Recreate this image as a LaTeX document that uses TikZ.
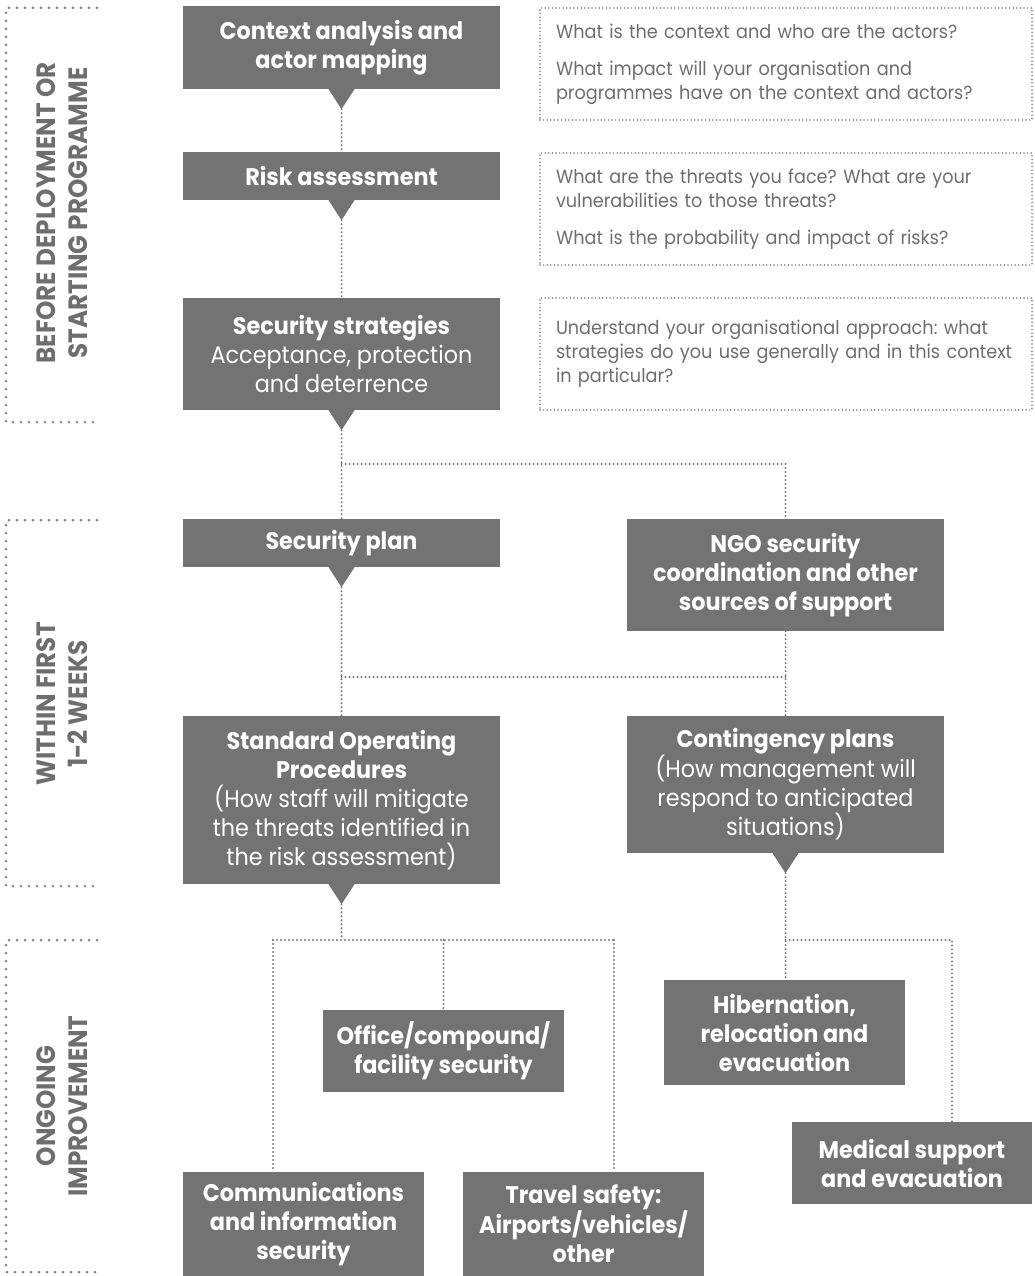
\documentclass[tikz,border=0pt]{standalone}
\usepackage{fontspec}
\setmainfont[FakeStretch=0.93]{Poppins}
\usetikzlibrary{calc}
\frenchspacing
\definecolor{boxgray}{HTML}{737373}
\definecolor{txtgray}{HTML}{6E6E6E}
\definecolor{dotgray}{HTML}{7A7A7A}
\tikzset{
  mainbox/.style={fill=boxgray, text=white, minimum width=317pt, inner sep=0pt, align=center,
    font=\fontsize{24}{29}\selectfont},
  smallbox/.style={mainbox, minimum width=241pt},
  qbox/.style={draw=dotgray, line width=1.7pt, line cap=round, dash pattern=on 0pt off 3.6pt,
    minimum width=492pt, minimum height=112pt, text width=460pt, inner xsep=16pt, inner ysep=0pt,
    align=left, text=txtgray, font=\fontsize{19}{24}\selectfont},
  conn/.style={draw=dotgray, line width=2.1pt, line cap=round, dash pattern=on 0pt off 4pt},
  bracket/.style={draw=dotgray!90, line width=3pt, line cap=round, dash pattern=on 0pt off 8pt},
  sidelabel/.style={rotate=90, align=center, text=txtgray, font=\fontsize{26.5}{32}\selectfont\bfseries},
}
\newcommand{\tri}[1]{%
  \fill[boxgray] ($(#1.south)+(-13,0)$) -- ($(#1.south)+(13,0)$) -- ($(#1.south)+(0,20)$) -- cycle;
  \coordinate (#1-tip) at ($(#1.south)+(0,20)$);}
\begin{document}
\begin{tikzpicture}[x=1pt,y=-1pt]
\useasboundingbox (0,0) rectangle (1035,1276);
% side brackets
\draw[bracket] (97,8) -- (6,8) -- (6,422) -- (97,422);
\draw[bracket] (97,520) -- (6,520) -- (6,886) -- (97,886);
\draw[bracket] (97,940) -- (6,940) -- (6,1272) -- (97,1272);
\node[sidelabel] (l1) at (62,213) {BEFORE DEPLOYMENT OR\\STARTING PROGRAMME};
\node[sidelabel] (l2) at (62,704) {WITHIN FIRST\\1-2 WEEKS};
\node[sidelabel] (l3) at (62,1106) {ONGOING\\IMPROVEMENT};
% main column
\node[mainbox, minimum height=83pt] (ctx) at (341.5,47.5) {\bfseries Context analysis and\\\bfseries actor mapping};
\node[mainbox, minimum height=48pt] (risk) at (341.5,176) {\bfseries Risk assessment};
\node[mainbox, minimum height=112pt] (strat) at (341.5,354) {\bfseries Security strategies\\Acceptance, protection\\and deterrence};
\node[mainbox, minimum height=48pt] (plan) at (341.5,543) {\bfseries Security plan};
\node[mainbox, minimum height=168pt] (sop) at (341.5,800) {\bfseries Standard Operating\\\bfseries Procedures\\(How staff will mitigate\\the threats identified in\\the risk assessment)};
\node[mainbox, minimum height=112pt] (ngo) at (785.5,575) {\bfseries NGO security\\\bfseries coordination and other\\\bfseries sources of support};
\node[mainbox, minimum height=137pt] (cont) at (785.5,784.5) {\bfseries Contingency plans\\(How management will\\respond to anticipated\\situations)};
\node[smallbox, minimum height=82pt] (office) at (443.5,1051) {\bfseries Office/compound/\\\bfseries facility security};
\node[smallbox, minimum height=105pt] (hib) at (784.5,1032.5) {\bfseries Hibernation,\\\bfseries relocation and\\\bfseries evacuation};
\node[smallbox, minimum width=240pt, minimum height=82pt] (med) at (912,1163) {\bfseries Medical support\\\bfseries and evacuation};
\node[smallbox, minimum height=104pt] (comm) at (303.5,1224) {\bfseries Communications\\\bfseries and information\\\bfseries security};
\node[smallbox, minimum height=104pt] (travel) at (583.5,1224) {\bfseries Travel safety:\\\bfseries Airports/vehicles/\\\bfseries other};
% question boxes
\node[qbox] (q1) at (786,64) {What is the context and who are the actors?\\[13pt]What impact will your organisation and\\programmes have on the context and actors?};
\node[qbox] (q2) at (786,209) {What are the threats you face? What are your\\vulnerabilities to those threats?\\[13pt]What is the probability and impact of risks?};
\node[qbox] (q3) at (786,354) {Understand your organisational approach: what\\strategies do you use generally and in this context\\in particular?\\[6pt]};
% triangles
\tri{ctx}\tri{risk}\tri{strat}\tri{plan}\tri{sop}\tri{cont}
% connectors
\coordinate (j1) at (341.5,464);
\coordinate (j2) at (341.5,677);
\coordinate (j3) at (341.5,940);
\coordinate (jl) at (273,940);
\coordinate (jr) at (614,940);
\coordinate (jm) at (952,940);
\draw[conn] (ctx-tip) -- (risk.north);
\draw[conn] (risk-tip) -- (strat.north);
\draw[conn] (strat-tip) -- (plan.north);
\draw[conn] (j1) -| (ngo.north);
\draw[conn] (plan-tip) -- (sop.north);
\draw[conn] (j2) -- (j2 -| ngo.south);
\draw[conn] (ngo.south) -- (cont.north);
\draw[conn] (sop-tip) -- (j3);
\draw[conn] (jl) -- (jr);
\draw[conn] (jl) -- (jl |- comm.north);
\draw[conn] (office.north |- jl) -- (office.north);
\draw[conn] (jr) -- (jr |- travel.north);
\draw[conn] (cont-tip) -- (cont-tip |- hib.north);
\draw[conn] (cont-tip |- jm) -- (jm) -- (jm |- med.north);
\end{tikzpicture}
\end{document}
